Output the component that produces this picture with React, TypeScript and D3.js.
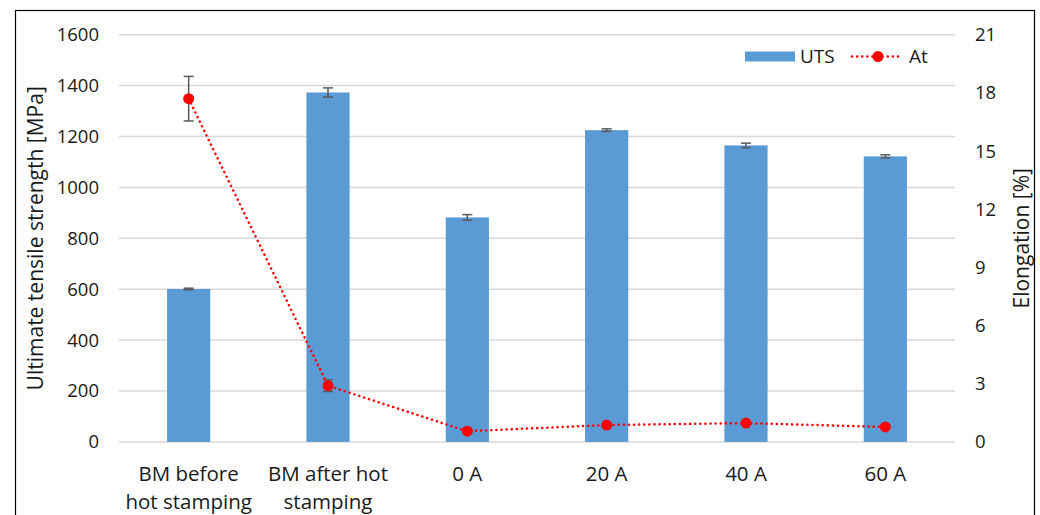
import React, { useRef, useEffect } from "react";
import * as d3 from "d3";

// category labels, split into lines as in the original
const categories: string[][] = [
    ["BM before", "hot stamping"],
    ["BM after hot", "stamping"],
    ["0 A"],
    ["20 A"],
    ["40 A"],
    ["60 A"],
];

const utsValues = [601, 1373, 882, 1225, 1165, 1122];
const utsErrors = [3, 18, 11, 5, 9, 6];

const atValues = [17.7, 2.9, 0.55, 0.87, 0.97, 0.77];
const atErrors = [1.15, 0.3, 0, 0, 0, 0];

const leftTicks = [0, 200, 400, 600, 800, 1000, 1200, 1400, 1600];
const rightTicks = [0, 3, 6, 9, 12, 15, 18, 21];

const WIDTH = 1040;
const HEIGHT = 515;
const FONT = "'Open Sans', 'DejaVu Sans', sans-serif";

const App: React.FC = () => {
    const svgRef = useRef<SVGSVGElement | null>(null);

    useEffect(() => {
        if (!svgRef.current) return;
        const svg = d3.select(svgRef.current);
        svg.selectAll("*").remove();

        const plot = { left: 119, right: 955, top: 34.7, bottom: 441.9 };

        const x = d3
            .scaleBand<number>()
            .domain(d3.range(categories.length))
            .range([plot.left, plot.right])
            .paddingInner(0.69)
            .paddingOuter(0.345);

        const yLeft = d3.scaleLinear().domain([0, 1600]).range([plot.bottom, plot.top]);
        const yRight = d3.scaleLinear().domain([0, 21]).range([plot.bottom, plot.top]);

        const cx = (i: number) => (x(i) as number) + x.bandwidth() / 2;

        // frame
        svg.append("rect")
            .attr("x", 15.5)
            .attr("y", 10.5)
            .attr("width", 1019)
            .attr("height", 520)
            .attr("fill", "white")
            .attr("stroke", "#000")
            .attr("stroke-width", 1.2);

        // -----------------------------
        // Grid lines
        // -----------------------------
        svg.append("g")
            .selectAll("line")
            .data(leftTicks)
            .enter()
            .append("line")
            .attr("x1", plot.left)
            .attr("x2", plot.right)
            .attr("y1", d => yLeft(d))
            .attr("y2", d => yLeft(d))
            .attr("stroke", "#d9d9d9")
            .attr("stroke-width", 1.5);

        // -----------------------------
        // Bars + error bars
        // -----------------------------
        svg.append("g")
            .selectAll("rect")
            .data(utsValues)
            .enter()
            .append("rect")
            .attr("x", (_, i) => x(i) as number)
            .attr("width", x.bandwidth())
            .attr("y", d => yLeft(d))
            .attr("height", d => yLeft(0) - yLeft(d))
            .attr("fill", "#5b9bd5");

        const errColor = "#595959";
        const drawErr = (
            values: number[],
            errors: number[],
            scale: d3.ScaleLinear<number, number>
        ) => {
            const g = svg.append("g").attr("stroke", errColor).attr("stroke-width", 1.5);
            values.forEach((v, i) => {
                const e = errors[i];
                if (!e) return;
                const top = scale(v + e);
                const bot = scale(v - e);
                g.append("line").attr("x1", cx(i)).attr("x2", cx(i)).attr("y1", top).attr("y2", bot);
                g.append("line").attr("x1", cx(i) - 5).attr("x2", cx(i) + 5).attr("y1", top).attr("y2", top);
                g.append("line").attr("x1", cx(i) - 5).attr("x2", cx(i) + 5).attr("y1", bot).attr("y2", bot);
            });
        };
        drawErr(utsValues, utsErrors, yLeft);
        drawErr(atValues, atErrors, yRight);

        // -----------------------------
        // Elongation line
        // -----------------------------
        const line = d3
            .line<number>()
            .x((_, i) => cx(i))
            .y(d => yRight(d));

        svg.append("path")
            .datum(atValues)
            .attr("d", line)
            .attr("fill", "none")
            .attr("stroke", "#ff0000")
            .attr("stroke-width", 2.5)
            .attr("stroke-dasharray", "0.1 5")
            .attr("stroke-linecap", "round");

        svg.append("g")
            .selectAll("circle")
            .data(atValues)
            .enter()
            .append("circle")
            .attr("cx", (_, i) => cx(i))
            .attr("cy", d => yRight(d))
            .attr("r", 5.5)
            .attr("fill", "#ff0000");

        // -----------------------------
        // Axis labels
        // -----------------------------
        svg.append("g")
            .selectAll("text")
            .data(leftTicks)
            .enter()
            .append("text")
            .attr("x", 99)
            .attr("y", d => yLeft(d))
            .attr("dy", "0.35em")
            .attr("text-anchor", "end")
            .attr("font-family", FONT)
            .attr("font-size", 18.5)
            .attr("fill", "#1a1a1a")
            .text(d => d);

        svg.append("g")
            .selectAll("text")
            .data(rightTicks)
            .enter()
            .append("text")
            .attr("x", 975)
            .attr("y", d => yRight(d))
            .attr("dy", "0.35em")
            .attr("text-anchor", "start")
            .attr("font-family", FONT)
            .attr("font-size", 18.5)
            .attr("fill", "#1a1a1a")
            .text(d => d);

        const catText = svg.append("g")
            .selectAll("text")
            .data(categories)
            .enter()
            .append("text")
            .attr("text-anchor", "middle")
            .attr("font-family", FONT)
            .attr("font-size", 20.5)
            .attr("fill", "#1a1a1a");
        catText.each(function (lines, i) {
            d3.select(this)
                .selectAll("tspan")
                .data(lines)
                .enter()
                .append("tspan")
                .attr("x", cx(i))
                .attr("y", (_, j) => 481 + j * 28)
                .text(d => d);
        });

        const midY = (plot.top + plot.bottom) / 2;
        svg.append("text")
            .attr("transform", `translate(43,${midY}) rotate(-90)`)
            .attr("text-anchor", "middle")
            .attr("font-family", FONT)
            .attr("font-size", 21)
            .attr("fill", "#1a1a1a")
            .text("Ultimate tensile strength [MPa]");

        svg.append("text")
            .attr("transform", `translate(1029,${midY}) rotate(-90)`)
            .attr("text-anchor", "middle")
            .attr("font-family", FONT)
            .attr("font-size", 21)
            .attr("fill", "#1a1a1a")
            .text("Elongation [%]");

        // -----------------------------
        // Legend
        // -----------------------------
        const lg = svg.append("g").attr("font-family", FONT).attr("font-size", 19).attr("fill", "#1a1a1a");
        lg.append("rect").attr("x", 745).attr("y", 51.5).attr("width", 50).attr("height", 10).attr("fill", "#5b9bd5");
        lg.append("text").attr("x", 800).attr("y", 56.5).attr("dy", "0.35em").text("UTS");
        lg.append("line")
            .attr("x1", 852).attr("x2", 903).attr("y1", 56.5).attr("y2", 56.5)
            .attr("stroke", "#ff0000").attr("stroke-width", 2.5)
            .attr("stroke-dasharray", "0.1 5").attr("stroke-linecap", "round");
        lg.append("circle").attr("cx", 878).attr("cy", 56.5).attr("r", 5.5).attr("fill", "#ff0000");
        lg.append("text").attr("x", 909).attr("y", 56.5).attr("dy", "0.35em").text("At");
    }, []);

    return (
        <svg
            ref={svgRef}
            width={WIDTH}
            height={HEIGHT}
            style={{ position: "absolute", left: 0, top: 0, background: "white" }}
        />
    );
};

export default App;
